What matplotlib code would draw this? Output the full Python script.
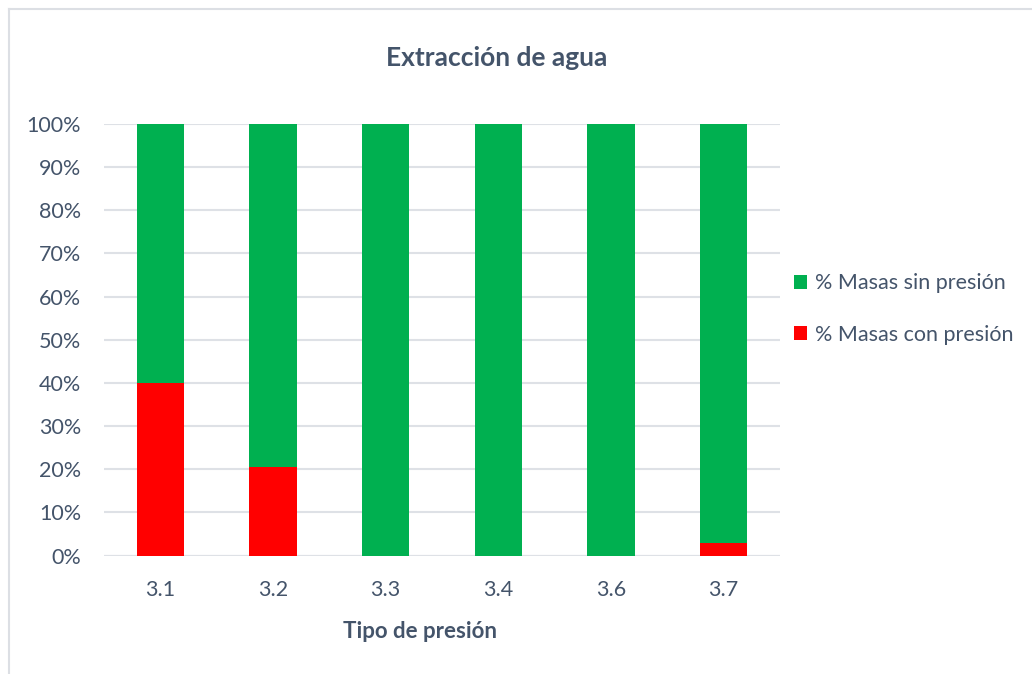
import matplotlib
matplotlib.use("Agg")
import matplotlib.pyplot as plt
from matplotlib.lines import Line2D
from matplotlib.patches import Patch
import numpy as np

categories = ["3.1", "3.2", "3.3", "3.4", "3.6", "3.7"]
con_presion = [40.0, 20.5, 0.0, 0.0, 0.0, 2.8]
sin_presion = [60.0, 79.5, 100.0, 100.0, 100.0, 97.2]
yticks = [0, 10, 20, 30, 40, 50, 60, 70, 80, 90, 100]
ytick_labels = [f"{v}%" for v in yticks]

title = "Extracción de agua"
xlabel = "Tipo de presión"
label_sin = "% Masas sin presión"
label_con = "% Masas con presión"

green = "#00B050"
red = "#FF0000"
text_color = "#44546A"
grid_color = "#DEE1E6"

plt.rcParams['font.family'] = ['Lato', 'DejaVu Sans']

fig = plt.figure(figsize=(10.32, 6.74), dpi=100)
ax = fig.add_axes([104/1032, 1-555.5/674, (780-104)/1032, (555.5-124)/674])

x = np.arange(len(categories))
w = 0.42
ax.bar(x, con_presion, width=w, color=red, zorder=3)
ax.bar(x, sin_presion, width=w, bottom=con_presion, color=green, zorder=3)

ax.set_xlim(-0.5, len(categories) - 0.5)
ax.set_ylim(0, 100)
ax.set_yticks(yticks)
ax.set_yticklabels(ytick_labels)
ax.set_xticks(x)
ax.set_xticklabels(categories)
ax.tick_params(axis='both', length=0, labelsize=15.5, labelcolor=text_color)
ax.tick_params(axis='y', pad=16.5)
ax.tick_params(axis='x', pad=18)
for s in ax.spines.values():
    s.set_visible(False)
ax.yaxis.grid(True, color=grid_color, linewidth=1.5, zorder=0)
ax.set_axisbelow(True)
ax.axhline(0, color=grid_color, linewidth=1.5, zorder=1)

ax.set_xlabel(xlabel, fontsize=16, fontweight='bold', color=text_color)
ax.xaxis.set_label_coords((420-104)/676, (555.5-621)/431.5)
fig.text(497/1032, 1-58/674, title, ha='center', va='center', fontsize=19,
         fontweight='bold', color=text_color)

handles = [Patch(facecolor=green, label=label_sin), Patch(facecolor=red, label=label_con)]
leg = fig.legend(handles=handles, loc='center left', bbox_to_anchor=(775/1032, 1-309/674),
                 frameon=False, fontsize=15.5, labelcolor=text_color, handlelength=0.6,
                 handleheight=0.6, handletextpad=0.35, labelspacing=1.45)

fig.add_artist(Line2D([9/1032, 9/1032], [0, 1-9/674], color="#DCDFE4", linewidth=1.5,
                      transform=fig.transFigure))
fig.add_artist(Line2D([9/1032, 1], [1-9/674, 1-9/674], color="#DCDFE4", linewidth=1.5,
                      transform=fig.transFigure))

fig.savefig("out.png", dpi=100)
